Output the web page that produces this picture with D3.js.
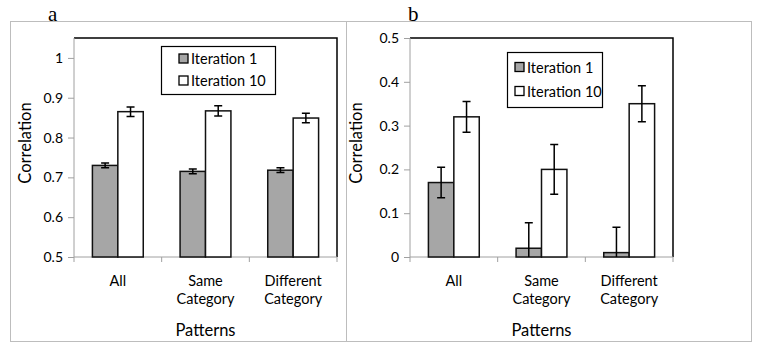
<!DOCTYPE html>
<html><head><meta charset="utf-8">
<script src="https://cdn.jsdelivr.net/npm/d3@7"></script>
<style>body{margin:0;background:#fff}svg{display:block}</style>
</head><body>
<svg id="c" width="758" height="345"></svg>
<script>
const categories = [["All"], ["Same", "Category"], ["Different", "Category"]];
const series = ["Iteration 1", "Iteration 10"];
const aIter1 = [0.730, 0.715, 0.718];
const aIter10 = [0.865, 0.867, 0.849];
const aErr1 = [0.006, 0.006, 0.006];
const aErr10 = [0.012, 0.013, 0.012];
const bIter1 = [0.17, 0.02, 0.01];
const bIter10 = [0.32, 0.20, 0.35];
const bErr1 = [0.035, 0.058, 0.058];
const bErr10 = [0.035, 0.057, 0.041];
const aTicks = [0.5, 0.6, 0.7, 0.8, 0.9, 1];
const bTicks = [0, 0.1, 0.2, 0.3, 0.4, 0.5];
const fills = ["#a6a6a6", "#ffffff"];
const FONT = "Lato, 'Open Sans', sans-serif";

const svg = d3.select("#c");

// outer frames
svg.append("rect").attr("x", 10.5).attr("y", 21.5).attr("width", 336).attr("height", 320)
  .attr("fill", "none").attr("stroke", "#bdbdbd");
svg.append("rect").attr("x", 346.5).attr("y", 21.5).attr("width", 405).attr("height", 320)
  .attr("fill", "none").attr("stroke", "#bdbdbd");

function panel(o) {
  const g = svg.append("g");
  const x = d3.scaleBand().domain(d3.range(categories.length)).range([o.left, o.right]);
  const inner = d3.scaleBand().domain(series).range([0, x.bandwidth() * 0.58]);
  const off = (x.bandwidth() - inner.range()[1]) / 2;
  const y = d3.scaleLinear().domain(o.domain).range([257, 38]);

  // top & right border (black)
  g.append("path").attr("d", `M${o.left},${y(o.domain[1])}H${o.right}V${y(o.domain[0])}`)
    .attr("fill", "none").attr("stroke", "#000").attr("stroke-width", 1.5);

  // y axis
  const ya = d3.axisLeft(y).tickValues(o.ticks).tickSize(6).tickPadding(5)
    .tickFormat(d => d === 0 ? "0" : d3.format("")(+d.toFixed(1)));
  const yg = g.append("g").attr("transform", `translate(${o.left},0)`).call(ya);
  yg.select(".domain").attr("stroke", "#a0a0a0").attr("d", `M-0,${y(o.domain[1])}V${y(o.domain[0])}`);
  yg.selectAll(".tick line").attr("stroke", "#a0a0a0");
  yg.selectAll("text").attr("font-family", FONT).attr("font-size", 14).attr("fill", "#000");

  // x axis line + boundary ticks
  g.append("line").attr("x1", o.left).attr("x2", o.right).attr("y1", y(o.domain[0])).attr("y2", y(o.domain[0]))
    .attr("stroke", "#a0a0a0");
  const bounds = d3.range(categories.length + 1).map(i => i < categories.length ? x(i) : o.right);
  g.selectAll(".bt").data(bounds).join("line")
    .attr("x1", d => d).attr("x2", d => d).attr("y1", y(o.domain[0])).attr("y2", y(o.domain[0]) + 5)
    .attr("stroke", "#a0a0a0");

  // bars
  const data = [];
  o.vals.forEach((arr, s) => arr.forEach((v, i) => data.push({ i, s, v, e: o.errs[s][i] })));
  g.selectAll(".bar").data(data).join("rect")
    .attr("x", d => x(d.i) + off + inner(series[d.s]))
    .attr("y", d => y(d.v))
    .attr("width", inner.bandwidth())
    .attr("height", d => y(o.domain[0]) - y(d.v))
    .attr("fill", d => fills[d.s]).attr("stroke", "#111").attr("stroke-width", 1.5);

  // error bars
  const cx = d => x(d.i) + off + inner(series[d.s]) + inner.bandwidth() / 2;
  const lo = d => y(Math.max(o.domain[0], d.v - d.e));
  const hi = d => y(d.v + d.e);
  g.selectAll(".eb").data(data).join("path")
    .attr("d", d => {
      const c = cx(d), l = lo(d), h = hi(d);
      let p = `M${c},${l}V${h}M${c - 4},${h}H${c + 4}`;
      if (d.v - d.e > o.domain[0]) p += `M${c - 4},${l}H${c + 4}`;
      return p;
    })
    .attr("fill", "none").attr("stroke", "#000").attr("stroke-width", 1.5);

  // category labels
  categories.forEach((lines, i) => {
    const t = g.append("text").attr("x", x(i) + x.bandwidth() / 2).attr("y", 286)
      .attr("text-anchor", "middle").attr("font-family", FONT).attr("font-size", 14.5);
    lines.forEach((ln, k) => t.append("tspan").attr("x", x(i) + x.bandwidth() / 2).attr("dy", k ? 18 : 0).text(ln));
  });

  // axis titles
  g.append("text").attr("x", (o.left + o.right) / 2).attr("y", 336).attr("text-anchor", "middle")
    .attr("font-family", FONT).attr("font-size", 16.5).text("Patterns");
  g.append("text").attr("transform", `translate(${o.ytx},143) rotate(-90)`).attr("text-anchor", "middle")
    .attr("font-family", FONT).attr("font-size", 16.5).text("Correlation");

  // legend
  const L = o.legend;
  g.append("rect").attr("x", L.x + 0.5).attr("y", L.y + 0.5).attr("width", L.w).attr("height", L.h)
    .attr("fill", "#fff").attr("stroke", "#000").attr("stroke-width", 1.2);
  series.forEach((s, k) => {
    const yy = L.y + L.h / 2 + (k === 0 ? -L.gap / 2 : L.gap / 2);
    g.append("rect").attr("x", L.x + L.pad).attr("y", yy - 5).attr("width", 9).attr("height", 9)
      .attr("fill", fills[k]).attr("stroke", "#000").attr("stroke-width", 1.3);
    g.append("text").attr("x", L.x + L.pad + 12).attr("y", yy + 5)
      .attr("font-family", FONT).attr("font-size", 14.5).text(s);
  });

  // panel letter
  g.append("text").attr("x", o.letterX).attr("y", 20.5).attr("font-family", "'Liberation Serif', 'DejaVu Serif', serif")
    .attr("font-size", 21).text(o.letter);
}

panel({ left: 74, right: 337, domain: [0.5, 1.05], ticks: aTicks, vals: [aIter1, aIter10], errs: [aErr1, aErr10],
  ytx: 31, legend: { x: 161, y: 46, w: 114, h: 48, pad: 18, gap: 22 }, letter: "a", letterX: 48 });
panel({ left: 410, right: 673, domain: [0, 0.5], ticks: bTicks, vals: [bIter1, bIter10], errs: [bErr1, bErr10],
  ytx: 362, legend: { x: 507, y: 52, w: 95, h: 55, pad: 8, gap: 24 }, letter: "b", letterX: 408 });
</script>
</body></html>
